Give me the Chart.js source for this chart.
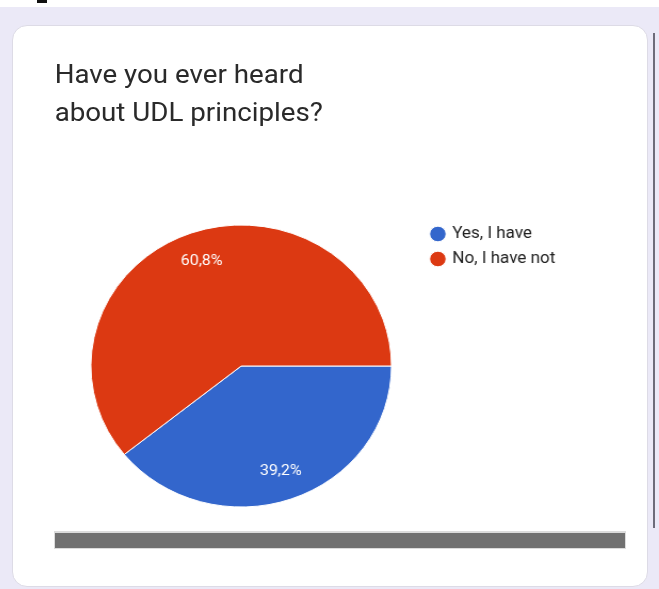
<!DOCTYPE html>
<html>
<head>
<meta charset="utf-8">
<script src="https://cdn.jsdelivr.net/npm/chart.js@4.4.0/dist/chart.umd.min.js"></script>
<style>
  html, body { margin: 0; padding: 0; }
  body { width: 659px; height: 589px; position: relative; overflow: hidden; background: #fff; font-family: Roboto, "Noto Sans", sans-serif; }
  #fundo { position: absolute; left: 0; top: 7px; width: 659px; height: 582px; background: #ebe9f7; }
  #marca { position: absolute; left: 37px; top: 0; width: 10px; height: 3px; background: #111; }
  #borda { position: absolute; left: 653px; top: 33px; width: 2px; height: 495px; background: #6d6c7a; }
  #cartao { position: absolute; left: 12px; top: 25px; width: 634px; height: 560px; background: #fff; border: 1px solid #dddbe6; border-radius: 15px; }
  #palco { position: absolute; left: 12px; top: 0; width: 560px; height: 589px; transform: scaleX(1.066); transform-origin: 0 0; }
  #titulo { position: absolute; left: 40px; top: 55px; font-size: 26px; line-height: 38px; color: #2a2a2a; white-space: nowrap; }
  #area { position: absolute; left: 0; top: 200px; width: 545px; height: 330px; }
  #barra { position: absolute; left: 54px; top: 531px; width: 572px; height: 18px; background: #dcdcdc; }
  #barra div { position: absolute; left: 1px; top: 2px; width: 570px; height: 15px; background: #717171; }
</style>
</head>
<body>
<div id="fundo"></div>
<div id="marca"></div>
<div id="borda"></div>
<div id="cartao"></div>
<div id="palco">
  <div id="titulo">Have you ever heard<br>about UDL principles?</div>
  <div id="area"><canvas id="pizza" width="545" height="330"></canvas></div>
</div>
<div id="barra"><div></div></div>

<script>
// Dados do gráfico
const categorias = ['Yes, I have', 'No, I have not'];
const percentuais = [39.2, 60.8];
const cores = ['#3366cc', '#dc3912'];

// Rótulos no formato brasileiro (vírgula)
const rotulos = percentuais.map(v => v.toFixed(1).replace('.', ',') + '%');

Chart.defaults.font.family = 'Roboto, "Noto Sans", sans-serif';

// Plugin para escrever a porcentagem dentro de cada fatia
const rotulosPlugin = {
    id: 'rotulosFatias',
    afterDatasetsDraw(chart) {
        const ctx = chart.ctx;
        const meta = chart.getDatasetMeta(0);
        ctx.save();
        ctx.fillStyle = '#ffffff';
        ctx.font = '15px Roboto, sans-serif';
        ctx.textAlign = 'center';
        ctx.textBaseline = 'middle';
        meta.data.forEach((arco, i) => {
            const p = arco.getProps(['x', 'y', 'startAngle', 'endAngle', 'outerRadius'], true);
            const meio = (p.startAngle + p.endAngle) / 2;
            const r = p.outerRadius * 0.79;
            ctx.fillText(rotulos[i], p.x + Math.cos(meio) * r, p.y + Math.sin(meio) * r);
        });
        ctx.restore();
    }
};

const grafico = new Chart(document.getElementById('pizza'), {
    type: 'pie',
    data: {
        labels: categorias,
        datasets: [{
            data: percentuais,
            backgroundColor: cores,
            borderColor: '#ffffff',
            borderWidth: 1
        }]
    },
    options: {
        responsive: false,
        animation: false,
        rotation: 90,
        radius: 141,
        layout: {
            padding: { left: 45, right: 20, top: 17, bottom: 15 }
        },
        plugins: {
            tooltip: { enabled: false },
            legend: {
                position: 'right',
                align: 'start',
                labels: {
                    usePointStyle: true,
                    pointStyle: 'circle',
                    boxWidth: 11,
                    boxHeight: 11,
                    padding: 9,
                    color: '#212121',
                    font: { size: 16 }
                }
            }
        }
    },
    plugins: [rotulosPlugin]
});

// Ajustar o espaço à direita para a legenda começar logo após a área da pizza
const direitaDesejada = 385;
const ajuste = grafico.chartArea.right - direitaDesejada;
if (Math.abs(ajuste) > 0.5) {
    grafico.options.layout.padding.right += ajuste;
    grafico.update();
}
</script>
</body>
</html>
